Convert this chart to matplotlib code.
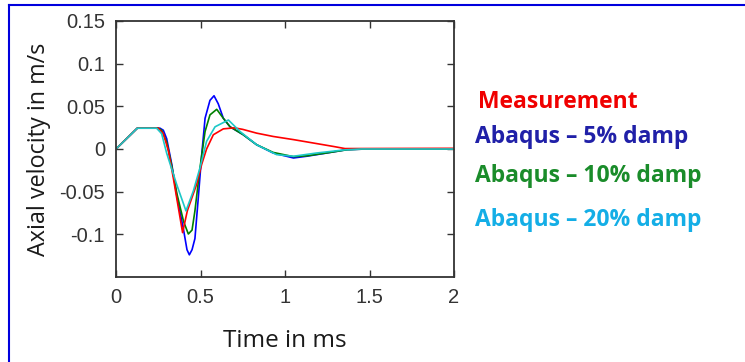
import matplotlib.pyplot as plt
from matplotlib.lines import Line2D

# Axial velocity (m/s) vs time (ms)
t_blue = [0, 0.126, 0.26, 0.28, 0.30, 0.33, 0.36, 0.40, 0.42, 0.434, 0.45, 0.467,
          0.487, 0.507, 0.527, 0.556, 0.58, 0.605, 0.635, 0.675, 0.753, 0.832,
          0.93, 1.05, 1.128, 1.247, 1.365, 1.48, 2.0]
v_blue = [0, 0.0244, 0.0244, 0.022, 0.012, -0.018, -0.055, -0.095, -0.118, -0.124,
          -0.118, -0.105, -0.057, -0.007, 0.036, 0.057, 0.0624, 0.053, 0.036, 0.026,
          0.0167, 0.005, -0.0047, -0.0105, -0.0085, -0.0047, -0.0008, 0, 0]

t_green = [0, 0.126, 0.25, 0.27, 0.30, 0.33, 0.36, 0.40, 0.428, 0.45, 0.467, 0.497,
           0.527, 0.556, 0.596, 0.635, 0.675, 0.753, 0.832, 0.93, 1.05, 1.13, 1.25,
           1.37, 1.48, 2.0]
v_green = [0, 0.0244, 0.0244, 0.022, 0.008, -0.02, -0.052, -0.085, -0.0996, -0.095,
           -0.0725, -0.022, 0.0205, 0.040, 0.0465, 0.036, 0.026, 0.0167, 0.005,
           -0.004, -0.009, -0.008, -0.0045, -0.0008, 0, 0]

t_red = [0, 0.126, 0.25, 0.28, 0.31, 0.34, 0.37, 0.394, 0.422, 0.477, 0.507, 0.536,
         0.576, 0.635, 0.70, 0.75, 0.832, 0.93, 1.05, 1.168, 1.286, 1.355, 2.0]
v_red = [0, 0.0244, 0.0244, 0.018, -0.002, -0.035, -0.07, -0.098, -0.0725, -0.0415,
         -0.018, 0.0, 0.0167, 0.0236, 0.0248, 0.023, 0.0186, 0.0147, 0.011, 0.007,
         0.003, 0.0005, 0.0008]

t_cyan = [0, 0.126, 0.24, 0.27, 0.30, 0.359, 0.414, 0.458, 0.497, 0.536, 0.586,
          0.665, 0.734, 0.832, 0.95, 1.05, 1.187, 1.355, 1.45, 2.0]
v_cyan = [0, 0.0244, 0.0244, 0.018, -0.005, -0.0415, -0.0725, -0.049, -0.022, 0.009,
          0.026, 0.034, 0.0205, 0.005, -0.0066, -0.0085, -0.0047, -0.001, 0, 0]

labels = ['Measurement', 'Abaqus \u2013 5% damp', 'Abaqus \u2013 10% damp',
          'Abaqus \u2013 20% damp']
label_colors = ['#F00000', '#2020A8', '#1A8C2A', '#14AEE6']

x_ticks = [0, 0.5, 1, 1.5, 2]
x_ticklabels = ['0', '0.5', '1', '1.5', '2']
y_ticks = [-0.1, -0.05, 0, 0.05, 0.1, 0.15]
y_ticklabels = ['-0.1', '-0.05', '0', '0.05', '0.1', '0.15']

plt.rcParams['axes.unicode_minus'] = False
label_font = ['Open Sans', 'DejaVu Sans']

W, H = 745, 362
fig = plt.figure(figsize=(W / 100, H / 100), dpi=100)
ax = fig.add_axes([116 / W, 1 - 277 / H, 338 / W, 256 / H])

ax.plot(t_blue, v_blue, color='#0000FF', lw=1.2)
ax.plot(t_green, v_green, color='#008000', lw=1.2)
ax.plot(t_red, v_red, color='#FF0000', lw=1.2)
ax.plot(t_cyan, v_cyan, color='#1CC8C8', lw=1.2)

ax.set_xlim(0, 2)
ax.set_ylim(-0.15, 0.15)
ax.set_xticks(x_ticks)
ax.set_xticklabels(x_ticklabels)
ax.set_yticks(y_ticks)
ax.set_yticklabels(y_ticklabels)
ax.tick_params(direction='in', length=5, width=1, top=True, right=True,
               colors='#333333', labelsize=14.5, pad=8)
for lab in ax.get_xticklabels() + ax.get_yticklabels():
    lab.set_family(['Liberation Sans', 'DejaVu Sans'])
for sp in ax.spines.values():
    sp.set_color('#333333')
    sp.set_linewidth(1.3)

ax.set_xlabel('Time in ms', family=label_font, fontsize=17.5,
              color='#1a1a1a', labelpad=16)
ax.set_ylabel('Axial velocity in m/s', family=label_font, fontsize=16.8,
              color='#1a1a1a', labelpad=6)

# right-hand coloured labels instead of a legend
baselines = [108, 143, 182, 226]
lefts = [478, 475, 475, 475]
for txt, col, yb, xl in zip(labels, label_colors, baselines, lefts):
    fig.text(xl / W, 1 - yb / H, txt, color=col, fontsize=16.5, fontweight='bold',
             family=label_font, va='baseline', ha='left')

# blue frame of the page around the figure
fig.add_artist(Line2D([8.5 / W, 8.5 / W], [0, 1 - 5 / H], color='#0000DD', lw=1.5))
fig.add_artist(Line2D([8.5 / W, 1], [1 - 5 / H, 1 - 5 / H], color='#0000DD', lw=1.5))

fig.savefig('out.png', dpi=100)
